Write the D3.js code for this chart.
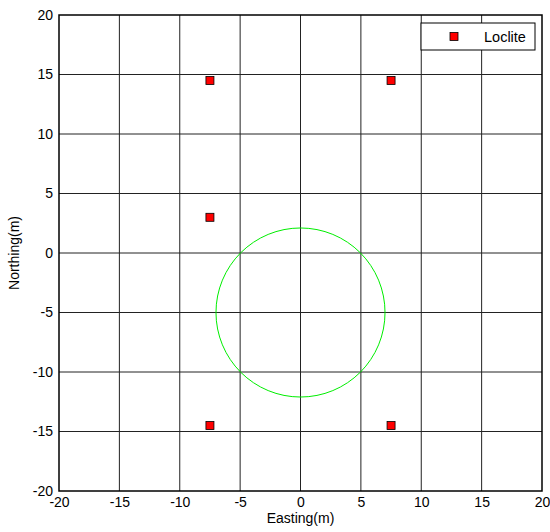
<!DOCTYPE html>
<html>
<head>
<meta charset="utf-8">
<script src="https://cdn.jsdelivr.net/npm/d3@7"></script>
<style>
  body { margin: 0; background: #fff; }
  text { font-family: "Liberation Sans", Arial, sans-serif; }
</style>
</head>
<body>
<svg width="550" height="532"></svg>
<script>
// station positions (m)
var easting = [-7.5, 7.5, -7.5, -7.5, 7.5];
var northing = [14.5, 14.5, 3, -14.5, -14.5];
var seriesName = "Loclite";
// green circle: centre and radius
var circleCentre = [0, -5];
var circleRadius = 7;
var tickValues = [-20, -15, -10, -5, 0, 5, 10, 15, 20];

var svg = d3.select("svg"),
    margin = {top: 15, right: 8, bottom: 41, left: 59},
    width = +svg.attr("width") - margin.left - margin.right,
    height = +svg.attr("height") - margin.top - margin.bottom;

var x = d3.scaleLinear().domain([-20, 20]).range([0, width]),
    y = d3.scaleLinear().domain([-20, 20]).range([height, 0]);

var g = svg.append("g")
    .attr("transform", "translate(" + margin.left + "," + margin.top + ")");

var fmt = function(d) { return String(d); };  // plain hyphen minus

// grid
g.append("g").selectAll("line")
  .data(tickValues.slice(1, -1))
  .enter().append("line")
    .attr("x1", function(d) { return x(d); })
    .attr("x2", function(d) { return x(d); })
    .attr("y1", 0).attr("y2", height)
    .attr("stroke", "#222").attr("stroke-width", 1);
g.append("g").selectAll("line")
  .data(tickValues.slice(1, -1))
  .enter().append("line")
    .attr("y1", function(d) { return y(d); })
    .attr("y2", function(d) { return y(d); })
    .attr("x1", 0).attr("x2", width)
    .attr("stroke", "#222").attr("stroke-width", 1);

// axes
var xAxis = g.append("g")
    .attr("transform", "translate(0," + height + ")")
    .call(d3.axisBottom(x).tickValues(tickValues).tickFormat(fmt).tickSize(0).tickPadding(6));
var yAxis = g.append("g")
    .call(d3.axisLeft(y).tickValues(tickValues).tickFormat(fmt).tickSize(0).tickPadding(6));
[xAxis, yAxis].forEach(function(a) {
  a.select(".domain").remove();
  a.selectAll("text").attr("font-size", 14).attr("fill", "#000")
    .style("font-family", "Liberation Sans, Arial, sans-serif");
});

// circle
g.append("circle")
    .attr("cx", x(circleCentre[0]))
    .attr("cy", y(circleCentre[1]))
    .attr("r", x(circleRadius) - x(0))
    .attr("fill", "none")
    .attr("stroke", "#00ee00")
    .attr("stroke-width", 1);

// markers
var pts = easting.map(function(e, i) { return {e: e, n: northing[i]}; });
g.selectAll(".pt")
  .data(pts)
  .enter().append("rect")
    .attr("class", "pt")
    .attr("x", function(d) { return x(d.e) - 4; })
    .attr("y", function(d) { return y(d.n) - 4; })
    .attr("width", 8).attr("height", 8)
    .attr("fill", "#ff0000")
    .attr("stroke", "#000").attr("stroke-width", 0.8);

// frame
g.append("rect")
    .attr("width", width).attr("height", height)
    .attr("fill", "none").attr("stroke", "#000").attr("stroke-width", 1.5);

// legend
var lg = g.append("g").attr("transform", "translate(" + (width - 121) + ",8)");
lg.append("rect")
    .attr("width", 114).attr("height", 27)
    .attr("fill", "#fff").attr("stroke", "#000").attr("stroke-width", 1);
lg.append("rect")
    .attr("x", 29).attr("y", 9.5).attr("width", 8).attr("height", 8)
    .attr("fill", "#ff0000").attr("stroke", "#000").attr("stroke-width", 0.8);
lg.append("text")
    .attr("x", 63).attr("y", 19)
    .attr("font-size", 14.5)
    .text(seriesName);

// axis titles
svg.append("text")
    .attr("x", margin.left + width / 2).attr("y", 523)
    .attr("text-anchor", "middle").attr("font-size", 14)
    .text("Easting(m)");
svg.append("text")
    .attr("transform", "translate(19," + (margin.top + height / 2) + ") rotate(-90)")
    .attr("text-anchor", "middle").attr("font-size", 14)
    .text("Northing(m)");
</script>
</body>
</html>
